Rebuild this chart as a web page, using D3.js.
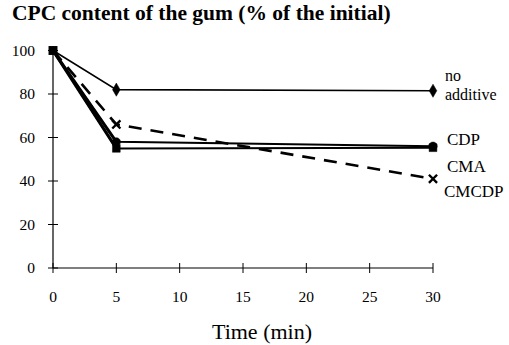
<!DOCTYPE html>
<html>
<head>
<meta charset="utf-8">
<script src="https://cdn.jsdelivr.net/npm/d3@7"></script>
<style>
  body { margin: 0; background: #fff; }
</style>
</head>
<body>
<svg id="chart"></svg>
<script>
// data
const times = [0, 5, 30];
const noAdditive = [100, 82, 81.5];
const cdp = [100, 58, 56];
const cma = [100, 55, 55.3];
const cmcdp = [100, 66, 41];
const xTicks = [0, 5, 10, 15, 20, 25, 30];
const yTicks = [0, 20, 40, 60, 80, 100];

const width = 509, height = 345;
const serif = "'Liberation Serif', 'Times New Roman', 'DejaVu Serif', serif";
const svg = d3.select("#chart").attr("width", width).attr("height", height)
    .attr("font-family", serif);

const x = d3.scaleLinear().domain([0, 30]).range([53, 433]);
const y = d3.scaleLinear().domain([0, 100]).range([268, 50.5]);

// title
svg.append("text")
    .attr("x", 12).attr("y", 20)
    .attr("font-family", serif)
    .attr("font-size", "21.5px")
    .attr("font-weight", "bold")
    .text("CPC content of the gum (% of the initial)");

// axes (ticks cross the axis line)
const g = svg.append("g");
g.append("line")
    .attr("x1", x(0)).attr("x2", x(0))
    .attr("y1", y(100)).attr("y2", y(0))
    .attr("stroke", "#000").attr("stroke-width", 1.2);
g.append("line")
    .attr("x1", x(0)).attr("x2", x(30))
    .attr("y1", y(0)).attr("y2", y(0))
    .attr("stroke", "#000").attr("stroke-width", 1.2);

g.selectAll(".ytick").data(yTicks).enter().append("line")
    .attr("x1", x(0) - 5).attr("x2", x(0) + 5)
    .attr("y1", d => y(d)).attr("y2", d => y(d))
    .attr("stroke", "#000").attr("stroke-width", 1);
g.selectAll(".ylab").data(yTicks).enter().append("text")
    .attr("x", 35).attr("y", d => y(d) + 5)
    .attr("text-anchor", "end")
    .attr("font-family", serif)
    .attr("font-size", "15.5px")
    .text(d => d);

g.selectAll(".xtick").data(xTicks).enter().append("line")
    .attr("x1", d => x(d)).attr("x2", d => x(d))
    .attr("y1", y(0) - 5).attr("y2", y(0) + 5)
    .attr("stroke", "#000").attr("stroke-width", 1);
g.selectAll(".xlab").data(xTicks).enter().append("text")
    .attr("x", d => x(d)).attr("y", 302)
    .attr("text-anchor", "middle")
    .attr("font-family", serif)
    .attr("font-size", "15.5px")
    .text(d => d);

svg.append("text")
    .attr("x", 262).attr("y", 339)
    .attr("text-anchor", "middle")
    .attr("font-family", serif)
    .attr("font-size", "22px")
    .text("Time (min)");

// series
const line = d3.line().x((d, i) => x(times[i])).y(d => y(d));

const series = [
    { name: "no additive", values: noAdditive, width: 1.6, dash: null, marker: "diamond" },
    { name: "CDP", values: cdp, width: 2, dash: null, marker: "circle" },
    { name: "CMA", values: cma, width: 2, dash: null, marker: "square" },
    { name: "CMCDP", values: cmcdp, width: 2.6, dash: "13,9", marker: "cross" }
];

series.forEach(s => {
    svg.append("path")
        .datum(s.values)
        .attr("d", line)
        .attr("fill", "none")
        .attr("stroke", "#000")
        .attr("stroke-width", s.width)
        .attr("stroke-dasharray", s.dash);
});

// thick first drop of the two lower solid curves
[cdp, cma].forEach(v => {
    svg.append("path")
        .datum(v.slice(0, 2))
        .attr("d", line)
        .attr("fill", "none")
        .attr("stroke", "#000")
        .attr("stroke-width", 3);
});

const symbols = {
    diamond: d3.symbol().type(d3.symbolDiamond).size(50),
    circle: d3.symbol().type(d3.symbolCircle).size(55),
    square: d3.symbol().type(d3.symbolSquare).size(60),
    cross: d3.symbol().type(d3.symbolTimes).size(45)
};

series.forEach(s => {
    svg.selectAll(null).data(s.values.slice(1)).enter().append("path")
        .attr("transform", (d, i) => `translate(${x(times[i + 1])},${y(d)})`)
        .attr("d", symbols[s.marker])
        .attr("fill", "#000")
        .attr("stroke", "#000")
        .attr("stroke-width", s.marker === "cross" ? 2.4 : 0.5);
});

// start point
svg.append("path")
    .attr("transform", `translate(${x(0)},${y(100)})`)
    .attr("d", d3.symbol().type(d3.symbolSquare).size(80))
    .attr("fill", "#000");

// series labels at the right
const labels = [
    { lines: ["no", "additive"], x: 445, y: 81, size: 16 },
    { lines: ["CDP"], x: 447, y: 145, size: 17 },
    { lines: ["CMA"], x: 447, y: 172, size: 17 },
    { lines: ["CMCDP"], x: 444, y: 197, size: 17 }
];
labels.forEach(l => {
    l.lines.forEach((t, i) => {
        svg.append("text")
            .attr("x", l.x).attr("y", l.y + i * 19)
            .attr("font-family", serif)
            .attr("font-size", l.size + "px")
            .text(t);
    });
});
</script>
</body>
</html>
